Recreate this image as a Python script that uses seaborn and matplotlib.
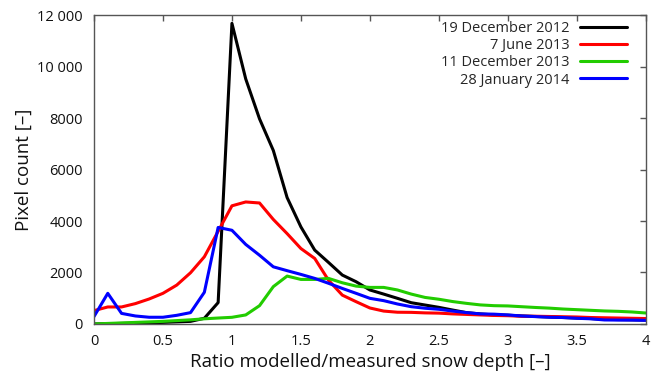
import numpy as np
import pandas as pd
import matplotlib
matplotlib.use("Agg")
import matplotlib.pyplot as plt
import seaborn as sns

ratio = [round(0.1 * i, 1) for i in range(41)]

dec2012 = [0, 10, 20, 30, 50, 60, 80, 100, 220, 830,
           11680, 9520, 7970, 6740, 4910, 3770, 2870, 2390, 1900, 1640,
           1320, 1160, 995, 825, 735, 645, 540, 440, 390, 350,
           340, 310, 290, 270, 250, 230, 210, 180, 170, 160, 150]
jun2013 = [517, 660, 660, 790, 970, 1190, 1510, 1990, 2610, 3600,
           4590, 4740, 4700, 4060, 3510, 2930, 2545, 1700, 1120, 865,
           620, 500, 455, 450, 430, 420, 390, 370, 350, 330,
           320, 300, 300, 290, 280, 270, 250, 240, 230, 220, 210]
dec2013 = [0, 20, 40, 60, 80, 100, 130, 160, 200, 230,
           258, 350, 710, 1450, 1860, 1730, 1730, 1770, 1600, 1470,
           1420, 1420, 1320, 1160, 1030, 960, 870, 800, 740, 710,
           700, 670, 640, 615, 580, 555, 530, 505, 490, 465, 425]
jan2014 = [285, 1190, 410, 310, 260, 260, 335, 440, 1230, 3750,
           3640, 3090, 2670, 2220, 2070, 1925, 1770, 1580, 1380, 1190,
           995, 905, 775, 670, 610, 570, 500, 440, 390, 380,
           350, 310, 285, 260, 250, 220, 200, 155, 150, 150, 140]

series_names = ["19 December 2012", "7 June 2013", "11 December 2013", "28 January 2014"]
series_values = [dec2012, jun2013, dec2013, jan2014]
colors = ["#000000", "#ff0000", "#22cc00", "#0000ff"]

xticks = [0, 0.5, 1, 1.5, 2, 2.5, 3, 3.5, 4]
xtick_labels = ["0", "0.5", "1", "1.5", "2", "2.5", "3", "3.5", "4"]
yticks = [0, 2000, 4000, 6000, 8000, 10000, 12000]
ytick_labels = ["0", "2000", "4000", "6000", "8000", "10 000", "12 000"]

df = pd.concat([pd.DataFrame({"ratio": ratio, "count": v, "series": n})
                for n, v in zip(series_names, series_values)], ignore_index=True)

sns.set_theme(style="white")
plt.rcParams["font.family"] = ["Open Sans", "DejaVu Sans"]

fig = plt.figure(figsize=(6.59, 3.78), dpi=100)
ax = fig.add_axes([0.1426, 0.143, 0.8374, 0.817])

sns.lineplot(data=df, x="ratio", y="count", hue="series", hue_order=series_names,
             palette=colors, linewidth=2.2, ax=ax, legend=True)

ax.set_xlim(0, 4)
ax.set_ylim(0, 12000)
ax.set_xticks(xticks)
ax.set_xticklabels(xtick_labels)
ax.set_yticks(yticks)
ax.set_yticklabels(ytick_labels)
ax.tick_params(direction="in", length=4, width=1, color="#555555",
               top=True, right=True, labelsize=10.5, labelcolor="#111111")
ax.tick_params(axis="y", pad=8)
ax.tick_params(axis="x", pad=7)
for s in ax.spines.values():
    s.set_color("#555555")
    s.set_linewidth(1)
ax.set_xlabel("Ratio modelled/measured snow depth [–]", fontsize=13.5, labelpad=3, color="#111111")
ax.set_ylabel("Pixel count [–]", fontsize=13.5, labelpad=3, color="#111111")

handles, labels = ax.get_legend_handles_labels()
ax.legend(handles, labels, loc="upper right", bbox_to_anchor=(0.976, 1.0),
          frameon=False, markerfirst=False,
          fontsize=10.5, handlelength=3.2, labelspacing=0.15, borderaxespad=0.0,
          handletextpad=0.7)

fig.savefig("out.png", dpi=100)
